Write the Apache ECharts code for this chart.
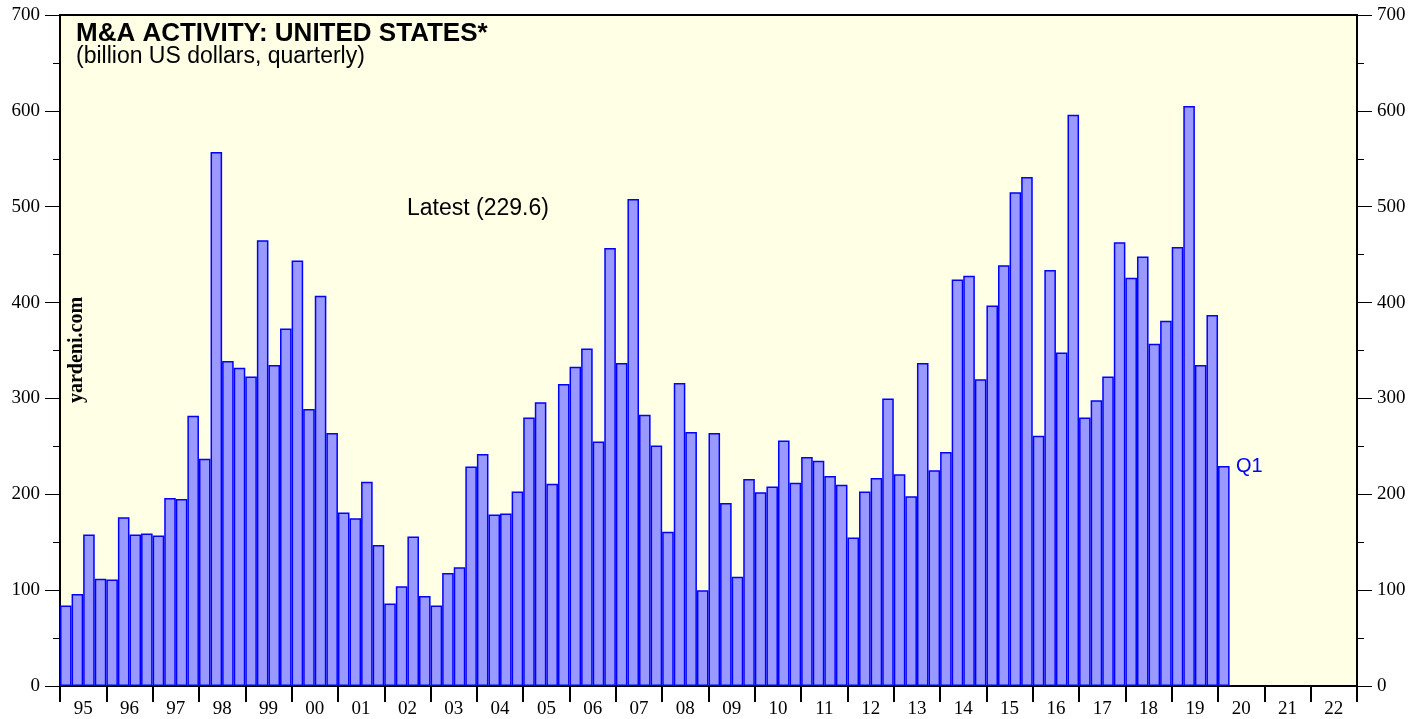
<!DOCTYPE html>
<html>
<head>
<meta charset="utf-8">
<script src="https://cdn.jsdelivr.net/npm/echarts@6/dist/echarts.min.js"></script>
<style>
html, body { margin: 0; padding: 0; background: #fff; }
#main { width: 1427px; height: 719px; }
</style>
</head>
<body>
<div id="main"></div>
<script>
// years shown on the bottom axis
var yearLabels = ['95', '96', '97', '98', '99', '00', '01', '02', '03', '04', '05', '06', '07', '08',
    '09', '10', '11', '12', '13', '14', '15', '16', '17', '18', '19', '20', '21', '22'];
// quarterly M&A, billion US dollars, 1995 Q1 .. 2020 Q1
var dealValues = [
    84, 96, 158, 112, 111, 176, 158, 159, 157, 196, 195, 282,       // 95-97
    237, 557, 339, 332, 323, 465, 335, 373, 444, 289, 407, 264,     // 98-00
    181, 175, 213, 147, 86, 104, 156, 94, 84, 118, 124, 229,        // 01-03
    242, 179, 180, 203, 280, 296, 211, 315, 333, 352, 255, 457,     // 04-06
    337, 508, 283, 251, 161, 316, 265, 100, 264, 191, 114, 216,     // 07-09
    202, 208, 256, 212, 239, 235, 219, 210, 155, 203, 217, 300,     // 10-12
    221, 198, 337, 225, 244, 424, 428, 320, 397, 439, 515, 531,     // 13-15
    261, 434, 348, 596, 280, 298, 323, 463, 426, 448, 357, 381,     // 16-18
    458, 605, 335, 387, 229.6                                       // 19-20
];
var latestText = 'Latest (229.6)';

var quarters = [];
yearLabels.forEach(function (y) {
    for (var q = 1; q <= 4; q++) {
        quarters.push(y + 'Q' + q);
    }
});
var barData = quarters.map(function (q, i) {
    return i < dealValues.length ? dealValues[i] : null;
});

var chartDom = document.getElementById('main');
var myChart = echarts.init(chartDom);
var serif = 'Liberation Serif, Times New Roman, serif';
var sans = 'Liberation Sans, Arial, sans-serif';

var yAxisBase = function (pos) {
    return {
        type: 'value',
        position: pos,
        min: 0,
        max: 700,
        interval: 100,
        axisLine: { show: true, lineStyle: { color: '#000', width: 2 } },
        axisTick: { show: true, inside: false, length: 15, lineStyle: { color: '#000', width: 1 } },
        minorTick: { show: true, splitNumber: 2, length: 7, lineStyle: { color: '#000', width: 1 } },
        splitLine: { show: false },
        axisLabel: { color: '#000', fontFamily: serif, fontSize: 19, margin: 20 }
    };
};

var option = {
    animation: false,
    backgroundColor: '#fff',
    grid: {
        left: 60,
        right: 70,
        top: 15,
        bottom: 32,
        show: true,
        backgroundColor: '#ffffe6',
        borderColor: '#000',
        borderWidth: 2
    },
    xAxis: [
        {
            type: 'category',
            data: quarters,
            show: false
        },
        {
            type: 'category',
            data: yearLabels,
            position: 'bottom',
            axisLine: { show: true, lineStyle: { color: '#000', width: 2 } },
            axisTick: { show: true, length: 16, lineStyle: { color: '#000', width: 2 } },
            axisLabel: { color: '#000', fontFamily: serif, fontSize: 19, margin: 14 },
            splitLine: { show: false }
        }
    ],
    yAxis: [yAxisBase('left'), yAxisBase('right')],
    graphic: [
        {
            type: 'text', x: 76, y: 34,
            style: { text: 'M&A ACTIVITY: UNITED STATES*', fill: '#000', font: 'bold 26px ' + sans, verticalAlign: 'middle' }
        },
        {
            type: 'text', x: 76, y: 57,
            style: { text: '(billion US dollars, quarterly)', fill: '#000', font: '23px ' + sans, verticalAlign: 'middle' }
        },
        {
            type: 'text', x: 407, y: 209,
            style: { text: latestText, fill: '#000', font: '23px ' + sans, verticalAlign: 'middle' }
        },
        {
            type: 'text', x: 1236, y: 466,
            style: { text: 'Q1', fill: '#0000ff', font: '20px ' + sans, verticalAlign: 'middle' }
        },
        {
            type: 'text', x: 77, y: 350, rotation: Math.PI / 2,
            style: {
                text: 'yardeni.com', fill: '#000', font: 'bold 20px ' + serif,
                align: 'center', verticalAlign: 'middle'
            }
        }
    ],
    series: [
        {
            type: 'bar',
            name: 'M&A',
            xAxisIndex: 0,
            yAxisIndex: 0,
            data: barData,
            barCategoryGap: '0%',
            itemStyle: { color: '#9999ff', borderColor: '#0000ff', borderWidth: 1.5 }
        }
    ]
};
myChart.setOption(option);
</script>
</body>
</html>
